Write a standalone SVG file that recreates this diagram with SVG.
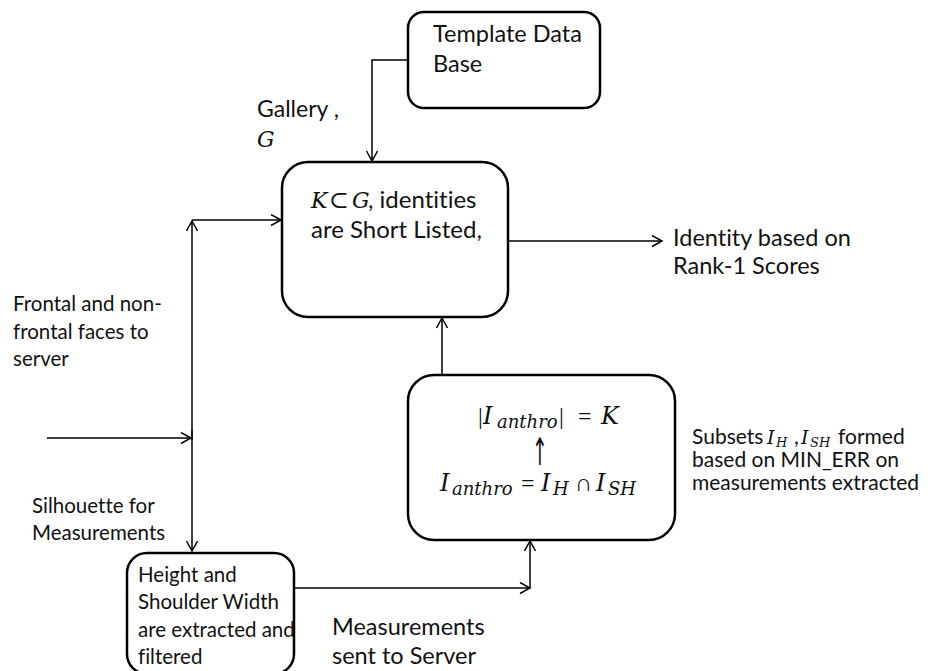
<svg xmlns="http://www.w3.org/2000/svg" width="935" height="671" viewBox="0 0 935 671">
<style>
.box{fill:#fff;stroke:#000;stroke-width:2.5}
.ln{fill:none;stroke:#000;stroke-width:1.5}
.t{font-family:Lato,"Open Sans","Liberation Sans",sans-serif;fill:#111;font-variant-ligatures:none;font-feature-settings:"liga" 0}
.m{font-family:"DejaVu Serif","Liberation Serif",serif;font-style:italic;fill:#111}
.u{font-family:"Liberation Serif","DejaVu Serif",serif;font-style:normal}
.ar{font-family:"DejaVu Sans",sans-serif;fill:#111}
</style>
<defs>
<marker id="ah" markerUnits="userSpaceOnUse" markerWidth="14" markerHeight="14" refX="11" refY="6" orient="auto">
<path d="M1,0.5 L11,6 L1,11.5" fill="none" stroke="#000" stroke-width="1.5"/>
</marker>
</defs>
<rect width="935" height="671" fill="#fff"/>
<g id="connectors">
<path class="ln" d="M408,60 H372 V161" marker-end="url(#ah)"/>
<path class="ln" d="M508,241 H662" marker-end="url(#ah)"/>
<path class="ln" d="M442,375 V318" marker-end="url(#ah)"/>
<path class="ln" d="M192,440 V221" marker-end="url(#ah)"/>
<path class="ln" d="M192,430 V551" marker-end="url(#ah)"/>
<path class="ln" d="M192,220 H281" marker-end="url(#ah)"/>
<path class="ln" d="M47,438 H191" marker-end="url(#ah)"/>
<path class="ln" d="M294,588 H530" marker-end="url(#ah)"/>
<path class="ln" d="M530,588 V541" marker-end="url(#ah)"/>
</g>
<g id="template">
<rect class="box" x="408" y="12" width="192" height="96" rx="16"/>
<text class="t" font-size="23.5" x="433" y="42">Template Data</text>
<text class="t" font-size="23.5" x="433" y="72">Base</text>
</g>
<g id="shortlist">
<rect class="box" x="282" y="162" width="226" height="155" rx="26"/>
<text class="t" font-size="24" y="208"><tspan class="m" font-size="22" x="311">K</tspan><tspan class="m u" font-size="24" x="329">⊂</tspan><tspan class="m" font-size="22" x="352">G</tspan><tspan x="368">, identities</tspan></text>
<text class="t" font-size="24" x="311" y="238">are Short Listed,</text>
</g>
<g id="anthro">
<rect class="box" x="408" y="375" width="267" height="165" rx="26"/>
<text class="m" font-size="24" y="424"><tspan class="u" x="478">|</tspan><tspan x="483">I</tspan><tspan font-size="18" x="497" dy="4">anthro</tspan><tspan class="u" x="559" dy="-4">|</tspan><tspan class="u" x="578">=</tspan><tspan x="601">K</tspan></text>
<text class="ar" font-size="38" transform="translate(540,465) scale(0.5,1)" text-anchor="middle">↑</text>
<text class="m" font-size="24" y="491"><tspan x="440">I</tspan><tspan font-size="18" x="452" dy="4">anthro</tspan><tspan class="u" x="521" dy="-4">=</tspan><tspan x="541">I</tspan><tspan font-size="18" x="553" dy="4">H</tspan><tspan class="u" x="575" dy="-4">∩</tspan><tspan x="596">I</tspan><tspan font-size="18" x="608" dy="4">SH</tspan></text>
</g>
<g id="measure">
<rect class="box" x="127" y="553" width="167" height="121" rx="20"/>
<text class="t" font-size="20.5" x="138" y="582">Height and</text>
<text class="t" font-size="20.5" x="138" y="609">Shoulder  Width</text>
<text class="t" font-size="20.5" x="138" y="637">are extracted and</text>
<text class="t" font-size="20.5" x="138" y="664">filtered</text>
</g>
<g id="labels">
<text class="t" font-size="23" x="257" y="117">Gallery ,</text>
<text class="m" font-size="22" x="257" y="147">G</text>
<text class="t" font-size="23.5" x="673" y="246">Identity based on</text>
<text class="t" font-size="23.5" x="673" y="274">Rank-1 Scores</text>
<text class="t" font-size="20.5" x="13" y="311">Frontal and non-</text>
<text class="t" font-size="20.5" x="13" y="339">frontal faces to</text>
<text class="t" font-size="20.5" x="13" y="366">server</text>
<text class="t" font-size="20.5" x="32" y="513">Silhouette for</text>
<text class="t" font-size="20.5" x="32" y="540">Measurements</text>
<text class="t" font-size="21" y="444"><tspan x="692">Subsets</tspan><tspan class="m" font-size="19" x="767">I</tspan><tspan class="m" font-size="13" x="776" dy="3">H</tspan><tspan x="794" dy="-3">,</tspan><tspan class="m" font-size="19" x="801">I</tspan><tspan class="m" font-size="13" x="810" dy="3">SH</tspan><tspan x="838" dy="-3">formed</tspan></text>
<text class="t" font-size="21" x="692" y="467">based on MIN_ERR on</text>
<text class="t" font-size="21" x="692" y="490">measurements extracted</text>
<text class="t" font-size="23.5" x="332" y="635">Measurements</text>
<text class="t" font-size="23.5" x="332" y="664">sent to Server</text>
</g>
</svg>
